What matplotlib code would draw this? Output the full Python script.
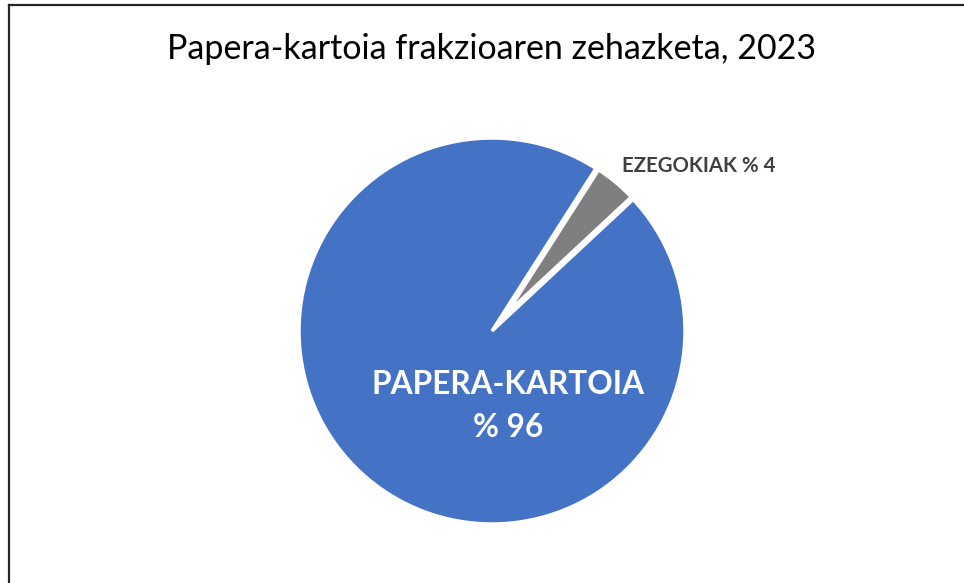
import matplotlib.pyplot as plt
from matplotlib.lines import Line2D

title = "Papera-kartoia frakzioaren zehazketa, 2023"
categories = ["PAPERA-KARTOIA", "EZEGOKIAK"]
shares = [96, 4]
colors = ["#4472C4", "#7F7F7F"]
explode = [0, 0.122]

plt.rcParams['font.family'] = ['Lato', 'DejaVu Sans']

fig = plt.figure(figsize=(9.64, 5.83), dpi=100)
W, H = 964, 583

# chart frame (only top and left edges are visible)
fig.add_artist(Line2D([9 / W, 1], [1 - 5 / H, 1 - 5 / H], transform=fig.transFigure,
                      color="#262626", lw=1.6))
fig.add_artist(Line2D([9 / W, 9 / W], [0, 1 - 5 / H], transform=fig.transFigure,
                      color="#262626", lw=1.6))

fig.text(492 / W, 1 - 49 / H, title, ha="center", va="center", fontsize=24.5, color="black")

ax = fig.add_axes([299 / W, (583 - 524) / H, 386 / W, 386 / H])
wedges, _ = ax.pie(shares, colors=colors, explode=explode, startangle=43, counterclock=False,
                   radius=1, wedgeprops=dict(edgecolor="white", linewidth=2.5))
# the pulled-out slice is drawn a bit smaller, as in the original
wedges[1].set_radius(0.88)
ax.set_xlim(-1, 1)
ax.set_ylim(-1, 1)
ax.set_aspect("auto")
ax.axis("off")

ax.text(0.085, -0.39, f"{categories[0]}\n% {shares[0]}", ha="center", va="center",
        color="white", fontsize=22.8, fontweight="bold", linespacing=1.6)
ax.text(0.672, 0.855, f"{categories[1]} % {shares[1]}", ha="left", va="center",
        color="#404040", fontsize=14.7, fontweight="bold")

fig.savefig("out.png", dpi=100)
